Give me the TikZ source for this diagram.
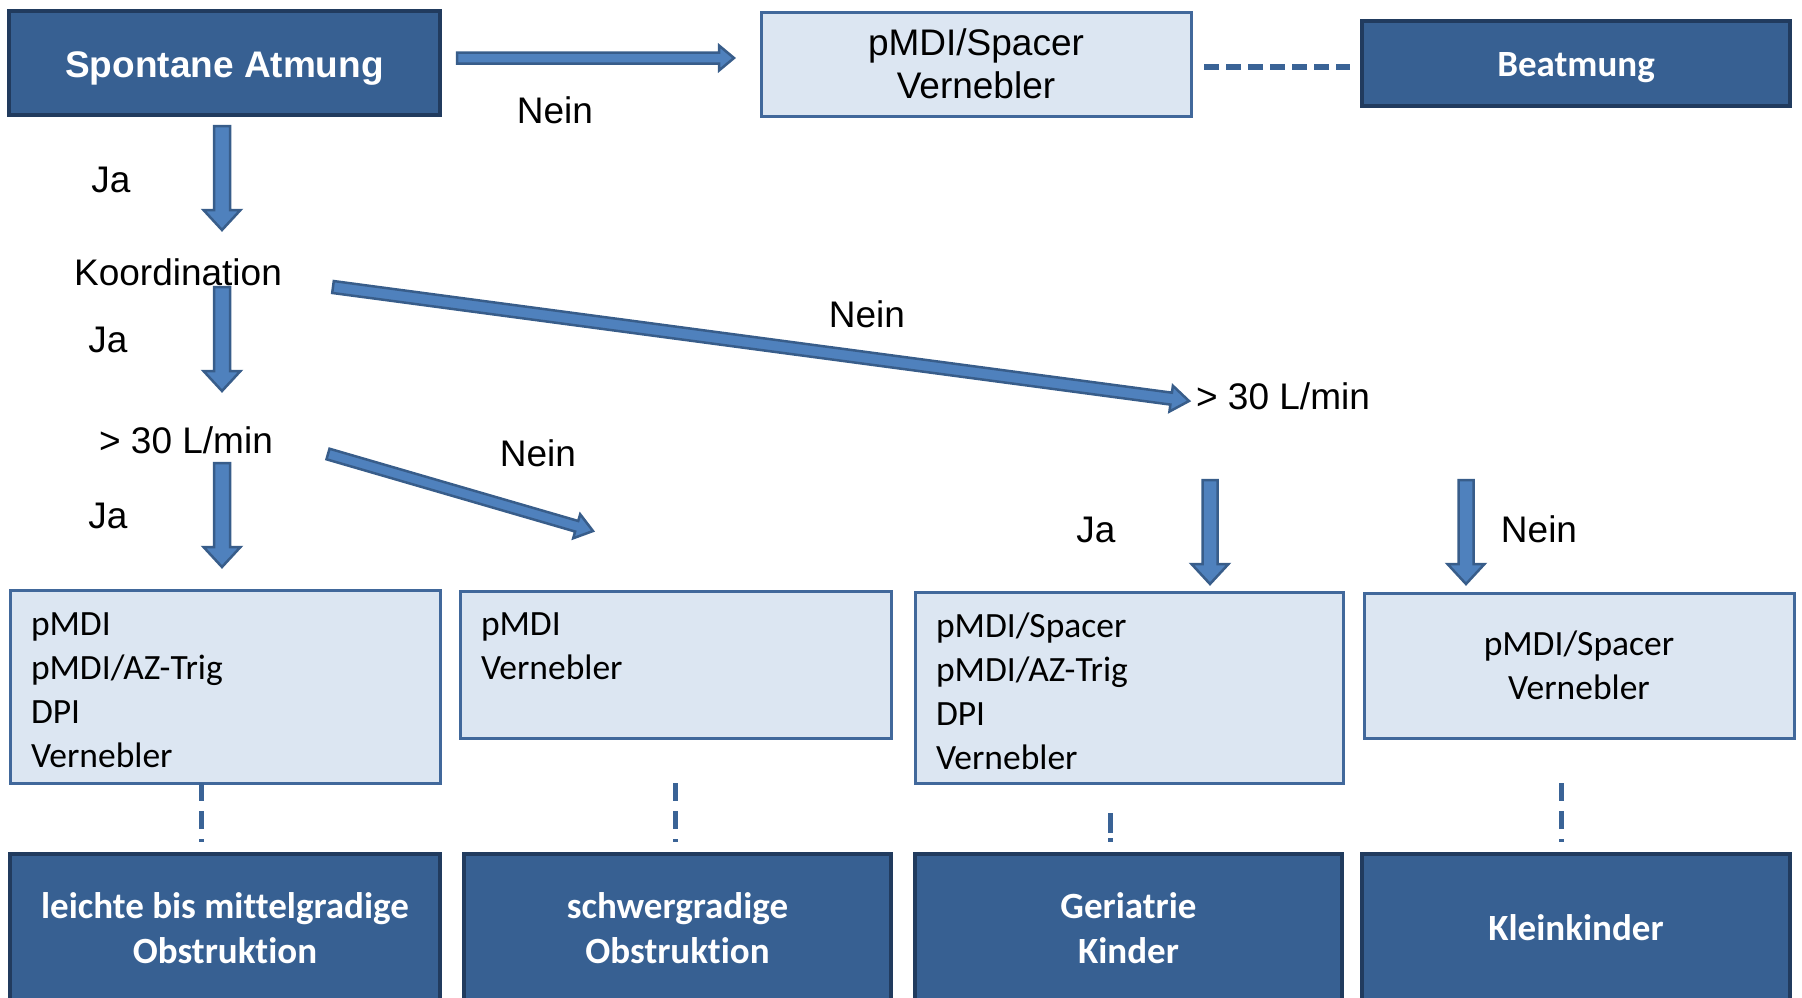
\documentclass[tikz,border=0pt]{standalone}
\usepackage{fontspec}
\setmainfont{Liberation Sans}
\newfontfamily\carl[Ligatures=NoCommon]{Carlito}
\usetikzlibrary{calc}
\definecolor{darkfill}{HTML}{376092}
\definecolor{darkedge}{HTML}{213B5E}
\definecolor{lightfill}{HTML}{DCE6F2}
\definecolor{lightedge}{HTML}{41689B}
\definecolor{arrowfill}{HTML}{4F81BD}
\definecolor{arrowedge}{HTML}{385D8A}
\definecolor{dashcol}{HTML}{3A6396}
\tikzset{
  darkbox/.style={draw=darkedge, line width=3.5pt, fill=darkfill, text=white, inner sep=0pt, align=center},
  lightbox/.style={draw=lightedge, line width=3pt, fill=lightfill, inner xsep=21pt},
  lbl/.style={font=\fontsize{37}{42.5}\selectfont, inner sep=0pt},
  arr/.style={draw=arrowedge, fill=arrowfill, line width=2.5pt, line join=miter},
  hdash/.style={draw=dashcol, line width=5.5pt, dash pattern=on 15pt off 7pt},
  vdash/.style={draw=dashcol, line width=5pt, dash pattern=on 18pt off 10pt},
}
% #1 from, #2 to, #3 shaft half width, #4 head half width, #5 head length
\newcommand{\blockarrow}[5]{%
  \coordinate (ba-h) at ($(#2)!#5!(#1)$);
  \draw[arr] ($(#1)!#3!90:(#2)$) -- ($(ba-h)!#3!-90:(#1)$) -- ($(ba-h)!#4!-90:(#1)$) -- (#2)
     -- ($(ba-h)!#4!90:(#1)$) -- ($(ba-h)!#3!90:(#1)$) -- ($(#1)!#3!-90:(#2)$) -- cycle;
}
\newcommand{\carltext}[3]{\parbox[c][#1pt][t]{#2pt}{\raggedright\carl\fontsize{35.5}{44}\selectfont #3}}
\newcommand{\shiftdown}[2]{\raisebox{-#1pt}[\height][\depth]{#2}}
\begin{document}
\begin{tikzpicture}[x=1pt,y=-1pt]
\useasboundingbox (0,0) rectangle (1802,997);
\clip (0,0) rectangle (1802,997);

% top row
\node[darkbox, minimum width=431pt, minimum height=104pt, font=\bfseries\fontsize{37}{42}\selectfont] (spont) at (224.5,63) {\shiftdown{5}{Spontane Atmung}};
\node[lightbox, inner sep=0pt, minimum width=430pt, minimum height=104pt, align=center, font=\fontsize{37}{42.5}\selectfont] (top) at (976,64) {pMDI/Spacer\\Vernebler};
\node[darkbox, minimum width=428pt, minimum height=85pt, font=\carl\bfseries\fontsize{37}{45}\selectfont] (beat) at (1576,63.5) {\shiftdown{4}{Beatmung}};

% labels
\node[lbl] (nein1) at (555,110) {Nein};
\node[lbl] (ja1) at (111,180) {Ja};
\node[lbl] (koord) at (178,272) {Koordination};
\node[lbl] (ja2) at (108,340) {Ja};
\node[lbl] (flow1) at (186,440) {> 30 L/min};
\node[lbl] (ja3) at (108,516) {Ja};
\node[lbl] (nein2) at (538,453) {Nein};
\node[lbl] (nein3) at (867,314) {Nein};
\node[lbl] (flow2) at (1283,396) {> 30 L/min};
\node[lbl] (ja4) at (1096,530) {Ja};
\node[lbl] (nein4) at (1539,529) {Nein};

% middle boxes
\node[lightbox, inner ysep=22.6pt, minimum width=430pt, minimum height=193pt] (b1) at (225,686.5)
  {\carltext{147.8}{388}{pMDI\\pMDI/AZ-Trig\\DPI\\Vernebler}};
\node[lightbox, inner ysep=21.6pt, minimum width=431pt, minimum height=147pt] (b2) at (675.5,664.5)
  {\carltext{103.8}{389}{pMDI\\Vernebler}};
\node[lightbox, inner ysep=20.6pt, minimum width=428pt, minimum height=191pt] (b3) at (1129,687.5)
  {\carltext{149.8}{386}{pMDI/Spacer\\pMDI/AZ-Trig\\DPI\\Vernebler}};
\node[lightbox, inner sep=0pt, minimum width=430pt, minimum height=145pt, align=center, font=\carl\fontsize{35.5}{44}\selectfont] (b4) at (1579,665.5) {pMDI/Spacer\\Vernebler};

% bottom boxes
\tikzset{botfont/.style={font=\carl\bfseries\fontsize{37}{45}\selectfont}}
\node[darkbox, botfont, minimum width=430pt, minimum height=148pt] (d1) at (225,928) {leichte bis mittelgradige\\Obstruktion};
\node[darkbox, botfont, minimum width=427pt, minimum height=148pt] (d2) at (677.5,928) {schwergradige\\Obstruktion};
\node[darkbox, botfont, minimum width=427pt, minimum height=148pt] (d3) at (1128.5,928) {Geriatrie\\Kinder};
\node[darkbox, botfont, minimum width=428pt, minimum height=148pt] (d4) at (1576,928) {Kleinkinder};

% arrow end points
\coordinate (a1s) at (457,58);   \coordinate (a1e) at (734,58);
\coordinate (a2s) at (222,126);  \coordinate (a2e) at (222,230);
\coordinate (a3s) at (222,287);  \coordinate (a3e) at (222,391);
\coordinate (a4s) at (222,463);  \coordinate (a4e) at (222,567);
\coordinate (a5s) at (328,454);  \coordinate (a5e) at (593,531);
\coordinate (a6s) at (333,287);  \coordinate (a6e) at (1189,401);
\coordinate (a7s) at (1210,480); \coordinate (a7e) at (1210,584);
\coordinate (a8s) at (1466,480); \coordinate (a8e) at (1466,584);

\blockarrow{a1s}{a1e}{5.5pt}{12.5pt}{15pt}
\blockarrow{a2s}{a2e}{8pt}{18.5pt}{20pt}
\blockarrow{a3s}{a3e}{8pt}{18.5pt}{20pt}
\blockarrow{a4s}{a4e}{8pt}{18.5pt}{20pt}
\blockarrow{a5s}{a5e}{5.5pt}{12.5pt}{17pt}
\blockarrow{a6s}{a6e}{6pt}{13pt}{18pt}
\blockarrow{a7s}{a7e}{7.5pt}{18.5pt}{20pt}
\blockarrow{a8s}{a8e}{7.5pt}{18.5pt}{20pt}

% dashed connectors
\coordinate (t1) at (1204,67); \coordinate (t2) at (1350,67);
\draw[hdash] (t1) -- (t2);
\coordinate (v1a) at (201,783);  \coordinate (v1b) at (201,842);
\coordinate (v2a) at (675,783);  \coordinate (v2b) at (675,842);
\coordinate (v3a) at (1110,813); \coordinate (v3b) at (1110,842);
\coordinate (v4a) at (1561,783); \coordinate (v4b) at (1561,842);
\draw[vdash] (v1a) -- (v1b);
\draw[vdash] (v2a) -- (v2b);
\draw[vdash, dash pattern=on 20pt off 5pt] (v3a) -- (v3b);
\draw[vdash] (v4a) -- (v4b);
\end{tikzpicture}
\end{document}
